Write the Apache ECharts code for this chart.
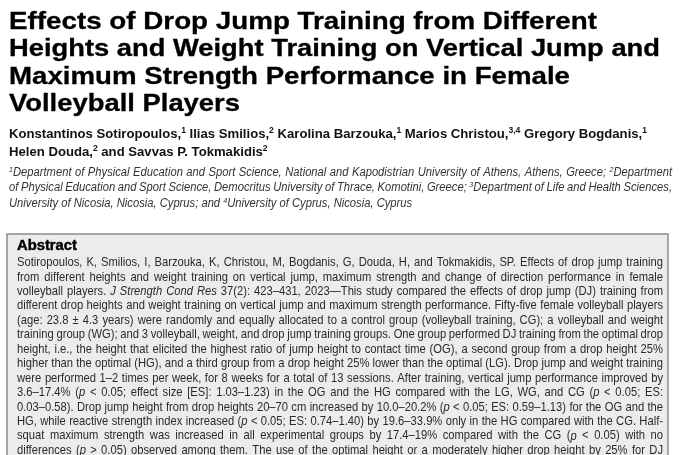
<!DOCTYPE html>
<html>
<head>
    <meta charset="utf-8">
    <title>Effects of Drop Jump Training</title>
    <script type="text/javascript" src="https://cdn.jsdelivr.net/npm/echarts@6/dist/echarts.min.js"></script>
    <style>
        html, body { margin: 0; padding: 0; background: #fff; }
        #chartmain { width: 680px; height: 455px; }
    </style>
</head>
<body>
<div id="chartmain"></div>
<script type="text/javascript">
// page text, line by line as in the picture
var titleLines = [
    'Effects of Drop Jump Training from Different',
    'Heights and Weight Training on Vertical Jump and',
    'Maximum Strength Performance in Female',
    'Volleyball Players'
];
var authorLines = [
    'Konstantinos Sotiropoulos,{s|1} Ilias Smilios,{s|2} Karolina Barzouka,{s|1} Marios Christou,{s|3,4} Gregory Bogdanis,{s|1}',
    'Helen Douda,{s|2} and Savvas P. Tokmakidis{s|2}'
];
var affiliationLines = [
    '{s|1}Department of Physical Education and Sport Science, National and Kapodistrian University of Athens, Athens, Greece; {s|2}Department',
    'of Physical Education and Sport Science, Democritus University of Thrace, Komotini, Greece; {s|3}Department of Life and Health Sciences,',
    'University of Nicosia, Nicosia, Cyprus; and {s|4}University of Cyprus, Nicosia, Cyprus'
];
var abstractHeading = 'Abstract';
var abstractLines = [
    'Sotiropoulos, K, Smilios, I, Barzouka, K, Christou, M, Bogdanis, G, Douda, H, and Tokmakidis, SP. Effects of drop jump training',
    'from different heights and weight training on vertical jump, maximum strength and change of direction performance in female',
    'volleyball players. {i|J} {i|Strength} {i|Cond} {i|Res} 37(2): 423–431, 2023—This study compared the effects of drop jump (DJ) training from',
    'different drop heights and weight training on vertical jump and maximum strength performance. Fifty-five female volleyball players',
    '(age: 23.8 ± 4.3 years) were randomly and equally allocated to a control group (volleyball training, CG); a volleyball and weight',
    'training group (WG); and 3 volleyball, weight, and drop jump training groups. One group performed DJ training from the optimal drop',
    'height, i.e., the height that elicited the highest ratio of jump height to contact time (OG), a second group from a drop height 25%',
    'higher than the optimal (HG), and a third group from a drop height 25% lower than the optimal (LG). Drop jump and weight training',
    'were performed 1–2 times per week, for 8 weeks for a total of 13 sessions. After training, vertical jump performance improved by',
    '3.6–17.4% ({i|p} < 0.05; effect size [ES]: 1.03–1.23) in the OG and the HG compared with the LG, WG, and CG ({i|p} < 0.05; ES:',
    '0.03–0.58). Drop jump height from drop heights 20–70 cm increased by 10.0–20.2% ({i|p} < 0.05; ES: 0.59–1.13) for the OG and the',
    'HG, while reactive strength index increased ({i|p} < 0.05; ES: 0.74–1.40) by 19.6–33.9% only in the HG compared with the CG. Half-',
    'squat maximum strength was increased in all experimental groups by 17.4–19% compared with the CG ({i|p} < 0.05) with no',
    'differences ({i|p} > 0.05) observed among them. The use of the optimal height or a moderately higher drop height by 25% for DJ'
];

var FAMILY = '"Liberation Sans", Arial, Helvetica, sans-serif';
var ctx = document.createElement('canvas').getContext('2d');

// width of a rich string, measured piece by piece
function measure(text, style, rich) {
    var w = 0, last = 0, m, re = /\{(\w+)\|([^}]*)\}/g;
    function seg(s, st) {
        ctx.font = (st.fontStyle || 'normal') + ' ' + (st.fontWeight || 'normal') + ' ' + st.fontSize + 'px ' + st.fontFamily;
        w += ctx.measureText(s).width;
    }
    while ((m = re.exec(text))) {
        if (m.index > last) seg(text.slice(last, m.index), style);
        seg(m[2], rich[m[1]]);
        last = re.lastIndex;
    }
    if (last < text.length) seg(text.slice(last), style);
    return w;
}

function textEl(text, x, y, sx, style, rich, fill) {
    return {
        type: 'text', x: x, y: y, scaleX: sx, z: 10,
        style: Object.assign({
            text: text, rich: rich, fill: fill,
            align: 'left', verticalAlign: 'middle',
            textAlign: 'left', textVerticalAlign: 'middle'
        }, style)
    };
}

// lines of words spread to the full width (justified)
function justifyBlock(lines, x, y0, step, width, style, rich, fill, flags) {
    var spaceW = measure(' ', style, rich);
    var c = 1;
    lines.forEach(function (line, i) {
        if (!flags[i]) return;
        var words = line.split(' ');
        var sum = 0;
        words.forEach(function (w) { sum += measure(w, style, rich); });
        var need = (width - (words.length - 1) * spaceW * 0.75) / sum;
        if (need < c) c = need;
    });
    var els = [];
    lines.forEach(function (line, i) {
        var words = line.split(' ');
        var ws = words.map(function (w) { return measure(w, style, rich) * c; });
        var sum = ws.reduce(function (a, b) { return a + b; }, 0);
        var gap = flags[i] ? (width - sum) / (words.length - 1) : spaceW * c;
        var cx = x;
        words.forEach(function (w, k) {
            els.push(textEl(w, cx, y0 + step * i, c, style, rich, fill));
            cx += ws[k] + gap;
        });
    });
    return els;
}

var elements = [];

// abstract box
elements.push({
    type: 'rect', z: 1,
    shape: { x: 7, y: 234, width: 661, height: 260 },
    style: { fill: '#ececec', stroke: '#8c8c8c', lineWidth: 1.5 }
});

// title: each line stretched to the width it has on the page
var titleStyle = { fontSize: 24, fontWeight: 'bold', fontFamily: FAMILY, stroke: '#000', lineWidth: 0.3 };
var titleWidths = [588, 651, 561, 231];
titleLines.forEach(function (t, i) {
    var sx = titleWidths[i] / measure(t, titleStyle, {});
    elements.push(textEl(t, 9, 22 + 27.6 * i, sx, titleStyle, {}, '#000'));
});

// authors
var authorStyle = { fontSize: 13, fontWeight: 'bold', fontFamily: FAMILY, lineHeight: 16 };
var authorRich = { s: { fontSize: 8.5, fontWeight: 'bold', fontFamily: FAMILY, verticalAlign: 'top', lineHeight: 9 } };
var authorScale = 638 / measure(authorLines[0], authorStyle, authorRich);
authorLines.forEach(function (t, i) {
    elements.push(textEl(t, 9, 134 + 18 * i, authorScale, authorStyle, authorRich, '#111'));
});

// affiliations
var affStyle = { fontSize: 12.5, fontStyle: 'italic', fontFamily: FAMILY, lineHeight: 14 };
var affRich = { s: { fontSize: 8, fontStyle: 'italic', fontFamily: FAMILY, verticalAlign: 'top', lineHeight: 8 } };
elements = elements.concat(justifyBlock(affiliationLines, 9, 172.5, 15.5, 663, affStyle, affRich, '#333', [true, true, false]));

// abstract
var headStyle = { fontSize: 14, fontWeight: 'bold', fontFamily: FAMILY, stroke: '#000', lineWidth: 0.4 };
elements.push(textEl(abstractHeading, 17, 246, 60 / measure(abstractHeading, headStyle, {}), headStyle, {}, '#000'));
var absStyle = { fontSize: 13, fontFamily: FAMILY };
var absRich = { i: { fontSize: 13, fontStyle: 'italic', fontFamily: FAMILY } };
elements = elements.concat(justifyBlock(abstractLines, 17, 262.5, 14.45, 646, absStyle, absRich, '#2a2a2a',
    abstractLines.map(function () { return true; })));

var option = {
    backgroundColor: '#fff',
    animation: false,
    graphic: { elements: elements }
};
var myChart = echarts.init(document.getElementById('chartmain'));
myChart.setOption(option);
</script>
</body>
</html>
